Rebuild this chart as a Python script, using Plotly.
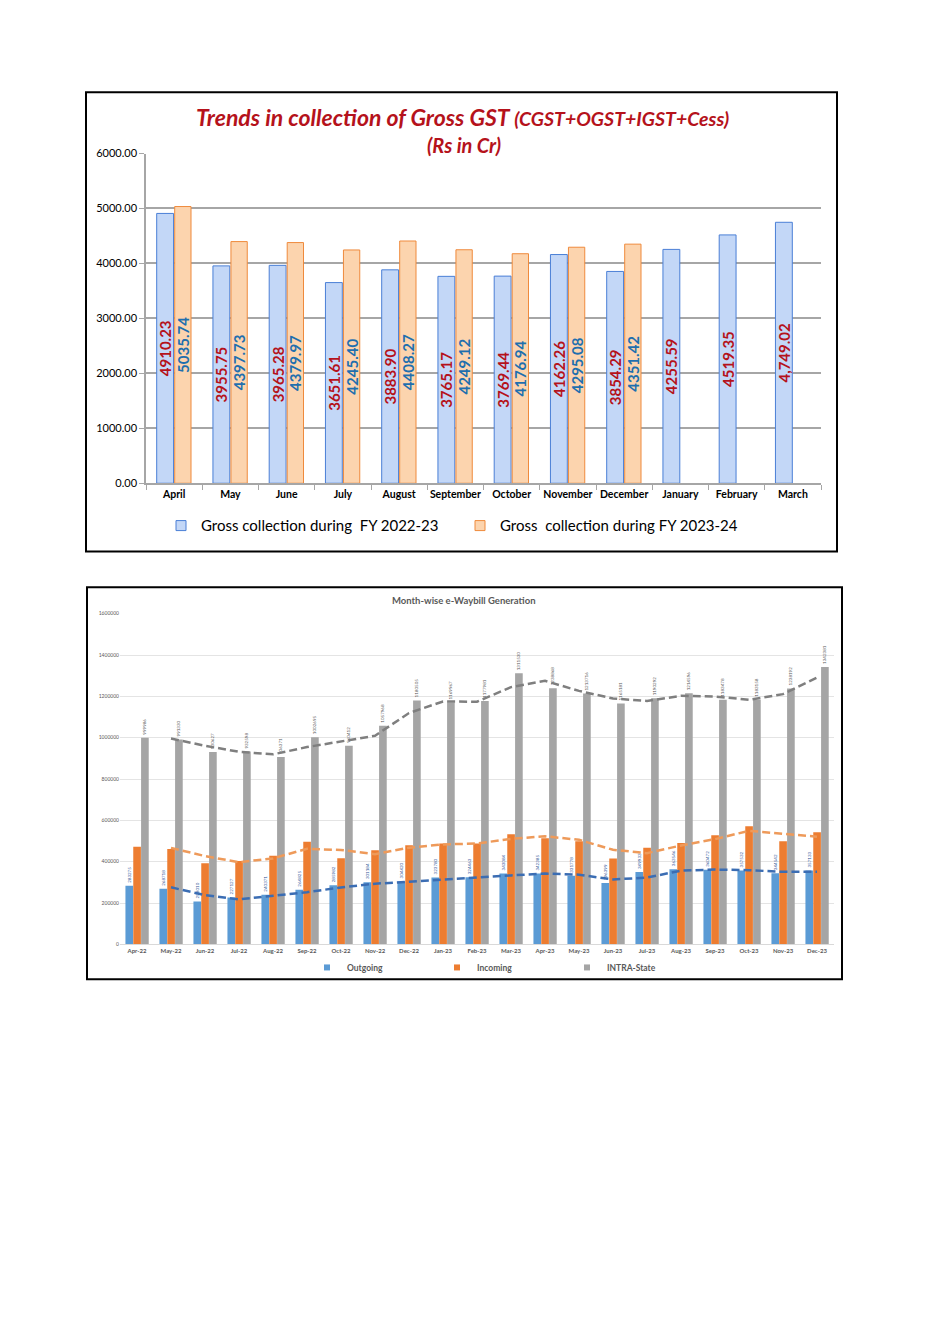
import plotly.graph_objects as go
import pandas as pd

W, H = 930, 1320
def px(x): return x / W
def py(y): return 1 - y / H

FONT = 'Lato, "Liberation Sans", sans-serif'

# ---------------- Chart 1 data ----------------
months_fy = ["April", "May", "June", "July", "August", "September", "October",
             "November", "December", "January", "February", "March"]
gross_2223 = [4910.23, 3955.75, 3965.28, 3651.61, 3883.90, 3765.17, 3769.44,
              4162.26, 3854.29, 4255.59, 4519.35, 4749.02]
gross_2324 = [5035.74, 4397.73, 4379.97, 4245.40, 4408.27, 4249.12, 4176.94,
              4295.08, 4351.42, None, None, None]
labels_2223 = ["4910.23", "3955.75", "3965.28", "3651.61", "3883.90", "3765.17",
               "3769.44", "4162.26", "3854.29", "4255.59", "4519.35", "4,749.02"]
labels_2324 = ["5035.74", "4397.73", "4379.97", "4245.40", "4408.27", "4249.12",
               "4176.94", "4295.08", "4351.42", "", "", ""]

# ---------------- Chart 2 data ----------------
months_ewb = ["Apr-22", "May-22", "Jun-22", "Jul-22", "Aug-22", "Sep-22", "Oct-22",
              "Nov-22", "Dec-22", "Jan-23", "Feb-23", "Mar-23", "Apr-23", "May-23",
              "Jun-23", "Jul-23", "Aug-23", "Sep-23", "Oct-23", "Nov-23", "Dec-23"]
outgoing = [283275, 268718, 208010, 227127, 240371, 264825, 285982, 301184, 304420,
            323780, 324463, 343084, 342385, 331778, 296399, 349933, 363546, 360472,
            357532, 344542, 357133]
incoming = [472000, 462000, 392000, 403000, 429000, 496000, 417000, 456000, 479000,
            488000, 488000, 533000, 513000, 499000, 416000, 467000, 490000, 528000,
            571000, 499000, 543000]
intra_state = [999986, 991330, 930627, 932598, 906371, 1002695, 960412, 1057968,
               1180505, 1169967, 1177981, 1311530, 1238868, 1213716, 1165181,
               1190292, 1214596, 1183478, 1183158, 1238192, 1342381]

# 2-period moving-average trendlines (as in the source chart)
ma_out = pd.Series(outgoing, dtype=float).rolling(2).mean().tolist()
ma_in = pd.Series(incoming, dtype=float).rolling(2).mean().tolist()
ma_intra = pd.Series(intra_state, dtype=float).rolling(2).mean().tolist()

fig = go.Figure()

# ---------- Chart 1 traces ----------
fig.add_trace(go.Bar(
    x=months_fy, y=gross_2223, text=labels_2223, name="Gross collection during  FY 2022-23",
    xaxis="x", yaxis="y", offset=-0.31, width=0.30,
    marker=dict(color="#c3d7f7", line=dict(color="#4a7fd6", width=1)),
    textposition="inside", insidetextanchor="middle", textangle=-90,
    constraintext="none",
    textfont=dict(family=FONT, size=15, color="#b5121b", weight="bold"),
    showlegend=False, hoverinfo="x+y"))
fig.add_trace(go.Bar(
    x=months_fy, y=gross_2324, text=labels_2324, name="Gross  collection during FY 2023-24",
    xaxis="x", yaxis="y", offset=0.01, width=0.29,
    marker=dict(color="#fcd4ae", line=dict(color="#ef8a3c", width=1)),
    textposition="inside", insidetextanchor="middle", textangle=-90,
    constraintext="none",
    textfont=dict(family=FONT, size=15, color="#1f6fae", weight="bold"),
    showlegend=False, hoverinfo="x+y"))
# legend entries chart 1
fig.add_trace(go.Scatter(x=[None], y=[None], mode="markers", xaxis="x", yaxis="y",
                         name="Gross collection during\u00a0 FY 2022-23", legend="legend",
                         marker=dict(symbol="square", size=10, color="#c3d7f7",
                                     line=dict(color="#4a7fd6", width=1))))
fig.add_trace(go.Scatter(x=[None], y=[None], mode="markers", xaxis="x", yaxis="y",
                         name="Gross\u00a0 collection during FY 2023-24", legend="legend",
                         marker=dict(symbol="square", size=10, color="#fcd4ae",
                                     line=dict(color="#ef8a3c", width=1))))

# ---------- Chart 2 traces ----------
fig.add_trace(go.Bar(
    x=months_ewb, y=outgoing, text=outgoing, name="Outgoing", xaxis="x2", yaxis="y2",
    offset=-0.34, width=0.225, marker=dict(color="#5b9bd5", line=dict(width=0)),
    textposition="outside", textangle=-90, constraintext="none", cliponaxis=False,
    textfont=dict(family=FONT, size=4.5, color="#2f5597"), showlegend=False))
fig.add_trace(go.Bar(
    x=months_ewb, y=incoming, name="Incoming", xaxis="x2", yaxis="y2",
    offset=-0.11, width=0.225, marker=dict(color="#ed7d31", line=dict(width=0)),
    showlegend=False))
fig.add_trace(go.Bar(
    x=months_ewb, y=intra_state, text=intra_state, name="INTRA-State", xaxis="x2", yaxis="y2",
    offset=0.12, width=0.225, marker=dict(color="#a5a5a5", line=dict(width=0)),
    textposition="outside", textangle=-90, constraintext="none", cliponaxis=False,
    textfont=dict(family=FONT, size=4.5, color="#595959"), showlegend=False))

fig.add_trace(go.Scatter(x=months_ewb, y=ma_out, mode="lines", xaxis="x2", yaxis="y2",
                         line=dict(color="#3b6db3", width=2.5, dash="8px,4px"),
                         showlegend=False, name="2 per. Mov. Avg. (Outgoing)"))
fig.add_trace(go.Scatter(x=months_ewb, y=ma_in, mode="lines", xaxis="x2", yaxis="y2",
                         line=dict(color="#ee9a5a", width=2.5, dash="8px,4px"),
                         showlegend=False, name="2 per. Mov. Avg. (Incoming)"))
fig.add_trace(go.Scatter(x=months_ewb, y=ma_intra, mode="lines", xaxis="x2", yaxis="y2",
                         line=dict(color="#7f7f7f", width=2.5, dash="8px,4px"),
                         showlegend=False, name="2 per. Mov. Avg. (INTRA-State)"))
for nm, col in [("Outgoing", "#5b9bd5"), ("Incoming", "#ed7d31"), ("INTRA-State", "#a5a5a5")]:
    fig.add_trace(go.Scatter(x=[None], y=[None], mode="markers", xaxis="x2", yaxis="y2",
                             name=nm, legend="legend2",
                             marker=dict(symbol="square", size=6, color=col)))

fig.update_layout(
    width=W, height=H, autosize=False,
    margin=dict(l=0, r=0, t=0, b=0),
    paper_bgcolor="white", plot_bgcolor="white",
    font=dict(family=FONT),
    barmode="overlay",
    xaxis=dict(domain=[px(146), px(821)], anchor="y", type="category", tickangle=0,
               showline=True, linecolor="#a6a6a6", linewidth=1.5,
               ticks="outside", tickson="boundaries", ticklen=5, tickcolor="#a6a6a6",
               tickfont=dict(family=FONT, size=10.5, color="#000000", weight="bold"),
               showgrid=False, fixedrange=True),
    yaxis=dict(domain=[py(481), py(148)], anchor="x", range=[0, 6000], dtick=1000,
               tickformat=".2f", showgrid=True, gridcolor="#a6a6a6", gridwidth=1.5,
               showline=True, linecolor="#a6a6a6", linewidth=1.5,
               ticks="outside", ticklen=5, tickcolor="#a6a6a6", zeroline=False,
               tickfont=dict(family=FONT, size=11, color="#000000"), fixedrange=True),
    xaxis2=dict(domain=[px(120), px(834)], anchor="y2", type="category", tickangle=0,
                showline=True, linecolor="#d9d9d9", linewidth=1, ticks="",
                tickfont=dict(family=FONT, size=6, color="#595959", weight="bold"),
                showgrid=False, fixedrange=True),
    yaxis2=dict(domain=[py(946.7), py(612.7)], anchor="x2", range=[0, 1600000],
                dtick=200000, tickformat="d", showgrid=True, gridcolor="#e4e4e4",
                gridwidth=1, showline=False, zeroline=False, ticks="",
                tickfont=dict(family=FONT, size=5, color="#595959"), fixedrange=True),
    legend=dict(orientation="h", x=px(161), y=py(524), xanchor="left", yanchor="middle",
                font=dict(family=FONT, size=15, color="#000000"),
                bgcolor="rgba(0,0,0,0)", entrywidth=254, entrywidthmode="pixels",
                itemclick=False, itemdoubleclick=False),
    legend2=dict(orientation="h", x=px(307), y=py(970), xanchor="left", yanchor="middle",
                 font=dict(family=FONT, size=8.5, color="#595959", weight="bold"),
                 bgcolor="rgba(0,0,0,0)", entrywidth=85, entrywidthmode="pixels",
                 itemclick=False, itemdoubleclick=False),
    annotations=[
        dict(x=px(462), y=py(111), xref="paper", yref="paper", showarrow=False,
             xanchor="center", yanchor="middle",
             text="<b><i>Trends in collection of Gross GST <span style='font-size:19.5px'>(CGST+OGST+IGST+Cess)</span></i></b>",
             font=dict(family=FONT, size=23, color="#b5121b")),
        dict(x=px(464), y=py(139), xref="paper", yref="paper", showarrow=False,
             xanchor="center", yanchor="middle", text="<b><i>(Rs in Cr)</i></b>",
             font=dict(family=FONT, size=20, color="#b5121b")),
        dict(x=px(464), y=py(599), xref="paper", yref="paper", showarrow=False,
             xanchor="center", yanchor="middle", text="<b>Month-wise e-Waybill Generation</b>",
             font=dict(family=FONT, size=9.5, color="#595959")),
    ],
    shapes=[
        dict(type="rect", xref="paper", yref="paper", x0=px(86), x1=px(837), y0=py(550), y1=py(86),
             line=dict(color="#000000", width=2), fillcolor="rgba(0,0,0,0)", layer="above"),
        dict(type="rect", xref="paper", yref="paper", x0=px(87), x1=px(842), y0=py(982), y1=py(586),
             line=dict(color="#000000", width=2), fillcolor="rgba(0,0,0,0)", layer="above"),
    ],
)

fig.write_html("out.html", config={"displayModeBar": False},
               post_script="document.body.style.margin='0';")
